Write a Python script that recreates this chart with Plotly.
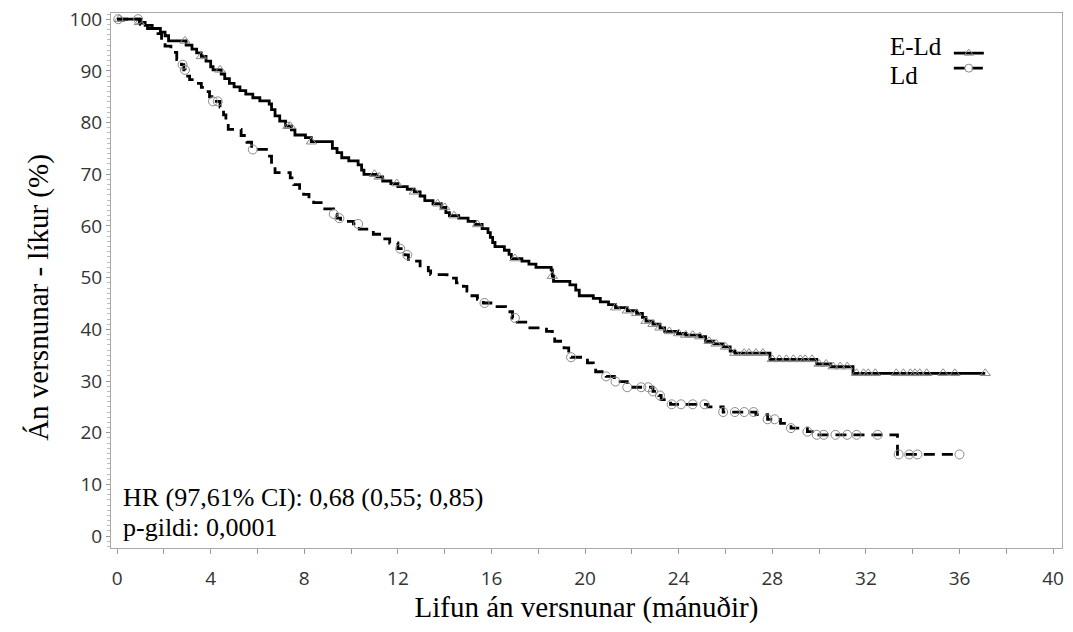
import numpy as np
import plotly.graph_objects as go

# ---- data: Kaplan-Meier step curves (time in months, survival %) ----
eld_t = [0, 0.95, 1.2, 1.5, 1.85, 2.05, 2.2, 2.95, 3.2, 3.4, 3.6, 3.8, 4.0, 4.1, 4.45, 4.6, 4.8, 5.0, 5.25,
         5.5, 5.8, 6.1, 6.5, 6.6, 6.75, 6.95, 7.2, 7.45, 7.6, 8.05, 8.3, 9.2, 9.4, 9.6, 9.9, 10.3, 10.45,
         10.55, 11.1, 11.35, 11.7, 12.0, 12.4, 12.7, 12.95, 13.15, 13.5, 13.85, 14.05, 14.2, 14.6, 15.0,
         15.3, 15.6, 15.85, 15.95, 16.05, 16.15, 16.55, 16.75, 16.85, 17.3, 17.6, 17.9, 18.55, 18.6, 18.65,
         19.35, 19.6, 19.75, 20.35, 20.65, 21.0, 21.3, 21.8, 22.2, 22.45, 22.6, 22.9, 23.2, 23.4, 23.95,
         24.3, 24.9, 25.15, 25.5, 25.9, 26.2, 26.4, 27.9, 29.9, 30.5, 31.45]
eld_s = [100, 99.4, 98.8, 98.2, 97.5, 96.8, 95.8, 95.0, 94.2, 93.5, 92.8, 91.9, 90.8, 90.2, 89.4, 88.5, 87.6,
         86.9, 86.2, 85.5, 84.8, 84.2, 83.6, 82.5, 81.3, 80.3, 79.3, 78.6, 77.6, 77.1, 76.3, 75.0, 74.2, 73.2,
         72.6, 71.8, 70.8, 70.0, 69.5, 68.7, 68.2, 67.6, 67.1, 66.6, 65.8, 64.9, 64.3, 63.6, 62.6, 62.0, 61.5,
         60.9, 60.3, 59.5, 58.7, 57.8, 56.8, 56.0, 55.3, 54.5, 53.7, 53.2, 52.6, 52.0, 51.5, 50.3, 49.3, 48.6,
         47.6, 46.5, 46.0, 45.3, 44.8, 44.2, 43.6, 43.1, 42.3, 41.6, 41.0, 40.3, 39.6, 39.2, 38.9, 38.6, 37.7,
         37.2, 36.6, 35.8, 35.4, 34.2, 33.3, 32.8, 31.5]
eld_end = 37.1

ld_t = [0, 1.0, 1.3, 1.6, 1.9, 2.05, 2.3, 2.55, 2.75, 2.85, 2.92, 3.1, 3.35, 3.6, 3.77, 3.95, 4.05, 4.4, 4.55,
        4.65, 4.75, 5.3, 5.55, 5.75, 6.45, 6.6, 6.75, 7.4, 7.55, 7.8, 7.97, 8.2, 8.4, 8.8, 9.25, 9.4, 9.55,
        10.1, 10.35, 10.95, 11.3, 11.65, 12.0, 12.3, 12.45, 12.95, 13.3, 13.4, 14.1, 14.5, 14.8, 14.95,
        15.05, 15.4, 15.65, 16.1, 16.6, 16.9, 17.1, 17.55, 18.35, 18.6, 18.7, 19.1, 19.3, 19.4, 20.1,
        20.35, 20.45, 20.9, 21.25, 21.8, 22.9, 23.15, 23.25, 23.65, 25.25, 25.9, 27.3, 27.8, 28.35, 28.8,
        29.5, 29.8, 33.35]
ld_s = [100, 99.0, 98.2, 97.2, 96.0, 94.8, 93.6, 92.2, 91.2, 90.2, 89.0, 88.3, 87.6, 86.8, 86.0, 85.0, 84.1,
        83.0, 81.5, 80.0, 78.7, 77.5, 76.2, 74.8, 73.5, 72.0, 70.3, 69.3, 68.0, 67.0, 66.1, 65.2, 64.5, 63.3,
        62.3, 61.5, 60.9, 60.4, 59.4, 58.4, 57.5, 56.7, 55.6, 54.4, 53.2, 52.3, 51.3, 50.6, 49.9, 49.0, 48.3,
        47.4, 46.5, 45.8, 45.1, 44.4, 43.4, 42.2, 41.4, 40.3, 39.6, 38.6, 37.7, 36.4, 35.3, 34.6, 33.5, 32.6,
        31.8, 30.9, 29.9, 28.8, 28.0, 27.2, 26.4, 25.5, 25.0, 24.0, 23.5, 22.6, 21.8, 20.9, 20.2, 19.6, 15.8]
ld_end = 36.0

# censored observation times
eld_cens = [0.1, 0.95, 2.9, 3.6, 4.4, 7.3, 7.4, 8.3, 11.0, 11.2, 11.95, 12.7, 13.7, 14.0, 14.4, 15.4, 17.0,
            18.6, 21.3, 21.8, 22.2, 22.6, 22.9, 23.2, 23.6, 24.0, 24.3, 24.6, 24.9, 25.3, 25.6, 26.0, 26.4,
            26.8, 27.0, 27.3, 27.6, 28.0, 28.3, 28.6, 28.9, 29.2, 29.4, 29.7, 30.0, 30.3, 30.6, 30.9, 31.2,
            31.6, 31.9, 32.1, 32.4, 33.3, 33.6, 33.9, 34.1, 34.3, 34.6, 35.3, 35.8, 37.1]
ld_cens = [0.05, 0.9, 2.8, 2.9, 4.1, 4.3, 5.8, 9.26, 9.5, 10.3, 12.1, 12.4, 15.7, 17.0, 19.4, 20.9, 21.3,
           21.8, 22.4, 22.7, 22.9, 23.2, 23.7, 24.1, 24.6, 25.1, 25.9, 26.4, 26.8, 27.2, 27.8, 28.1, 28.8,
           29.5, 29.9, 30.2, 30.7, 31.2, 31.6, 32.5, 33.4, 33.85, 34.2, 36.0]

series_names = ["E-Ld", "Ld"]
annot_lines = ["HR (97,61% CI): 0,68 (0,55; 0,85)", "p-gildi: 0,0001"]
x_title = "Lifun án versnunar (mánuðir)"
y_title = "Án versnunar - líkur (%)"
x_ticks = list(range(0, 41, 4))
y_ticks = list(range(0, 101, 10))


def step_value(times, surv, q):
    idx = np.searchsorted(np.array(times), np.array(q), side="right") - 1
    return np.array(surv)[idx]


SERIF = "Liberation Serif, Times New Roman, serif"
SANS = "Open Sans, DejaVu Sans, sans-serif"
MARK_COL = "#8a8a8a"

fig = go.Figure()

styles = [
    dict(t=eld_t, s=eld_s, end=eld_end, cens=eld_cens, dash="solid", sym="triangle-up-open", legend="legend"),
    dict(t=ld_t, s=ld_s, end=ld_end, cens=ld_cens, dash="11px,7px", sym="circle-open", legend="legend2"),
]

for st in styles:
    xs = list(st["t"]) + [st["end"]]
    ys = list(st["s"]) + [st["s"][-1]]
    fig.add_trace(go.Scatter(x=xs, y=ys, mode="lines", line_shape="hv",
                             line=dict(color="black", width=2.8, dash=st["dash"]),
                             showlegend=False, hoverinfo="skip"))
    cy = step_value(st["t"], st["s"], st["cens"])
    fig.add_trace(go.Scatter(x=st["cens"], y=cy, mode="markers",
                             marker=dict(symbol=st["sym"], size=9, color=MARK_COL,
                                         line=dict(width=1, color=MARK_COL)),
                             showlegend=False, hoverinfo="skip"))

# legend entries (symbol only, text drawn as annotations to its left)
for st in styles:
    fig.add_trace(go.Scatter(x=[None], y=[None], mode="lines+markers", name=" ",
                             line=dict(color="black", width=2.8, dash=st["dash"]),
                             marker=dict(symbol=st["sym"], size=8, color=MARK_COL,
                                         line=dict(width=1, color=MARK_COL)),
                             showlegend=True, legend=st["legend"]))

annotations = []
for i, name in enumerate(series_names):
    annotations.append(dict(text=name, xref="paper", yref="paper", x=0.8175, y=0.937 - i * 0.053,
                            xanchor="left", yanchor="middle", showarrow=False,
                            font=dict(family=SERIF, size=25, color="black")))
for i, line in enumerate(annot_lines):
    annotations.append(dict(text=line, xref="paper", yref="paper", x=0.011, y=0.095 - i * 0.057,
                            xanchor="left", yanchor="middle", showarrow=False,
                            font=dict(family=SERIF, size=26, color="black")))
annotations.append(dict(text=y_title, xref="paper", yref="paper", x=-0.077, y=0.469,
                        xanchor="center", yanchor="middle", textangle=-90, showarrow=False,
                        font=dict(family=SERIF, size=29, color="black")))

leg_common = dict(xanchor="left", yanchor="top", bgcolor="rgba(0,0,0,0)",
                  font=dict(family=SERIF, size=10), itemwidth=30, tracegroupgap=0)

fig.update_layout(
    width=1073, height=632,
    margin=dict(l=111, r=11, t=13, b=84),
    plot_bgcolor="white", paper_bgcolor="white",
    showlegend=True,
    legend=dict(x=0.881, y=0.952, **leg_common),
    legend2=dict(x=0.881, y=0.924, **leg_common),
    annotations=annotations,
)

fig.update_xaxes(range=[-0.26, 40.38], tickvals=x_ticks, ticks="outside", ticklen=5, tickcolor="#999",
                 minor=dict(dtick=2, ticklen=5, tickcolor="#999", ticks="outside"),
                 showline=True, linecolor="#aaa", linewidth=1, mirror=True,
                 showgrid=False, zeroline=False, automargin=False,
                 ticklabelstandoff=8, ticklabeloverflow="allow",
                 tickfont=dict(family=SANS, size=19, color="#333"),
                 title=dict(text=x_title, font=dict(family=SERIF, size=29, color="black"), standoff=2))
fig.update_yaxes(range=[-2.3, 101.2], tickvals=y_ticks, ticks="outside", ticklen=4, tickcolor="#999",
                 minor=dict(dtick=1, ticklen=3, tickcolor="#bbb", ticks="outside"),
                 showline=True, linecolor="#aaa", linewidth=1, mirror=True,
                 showgrid=False, zeroline=False, automargin=False,
                 ticklabeloverflow="allow",
                 tickfont=dict(family=SANS, size=19, color="#333"))

# remove the browser's default 8px page margin so the figure fills the window exactly
fig.write_html("out.html", config={"displayModeBar": False},
               post_script="document.body.style.margin='0px';")
